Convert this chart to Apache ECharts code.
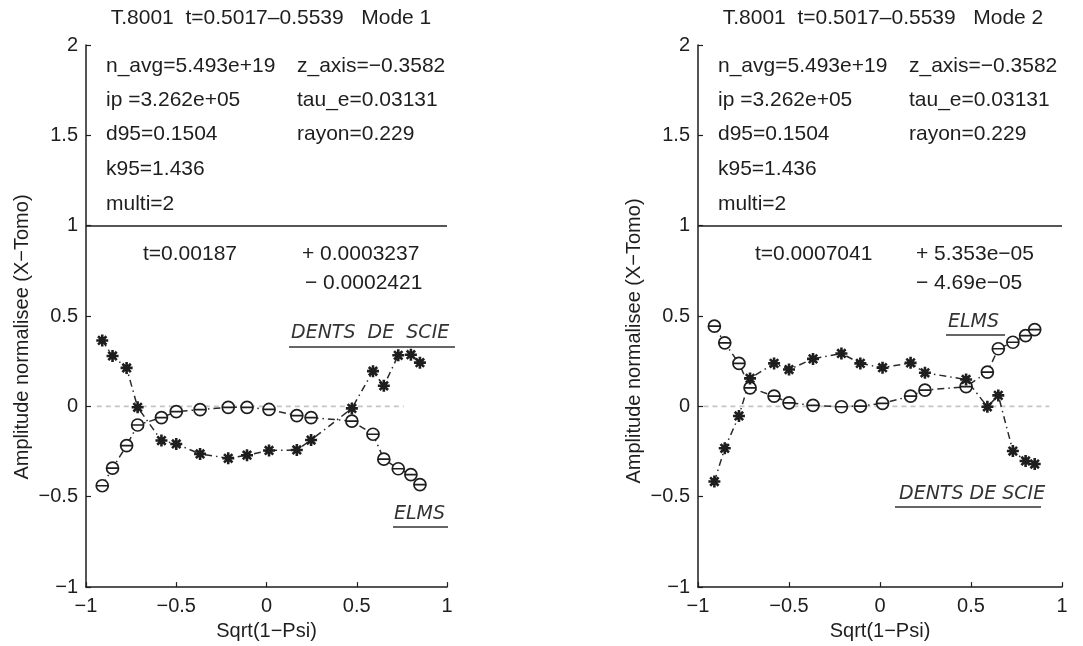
<!DOCTYPE html>
<html>
<head>
<meta charset="utf-8">
<script src="https://cdn.jsdelivr.net/npm/echarts@6/dist/echarts.min.js"></script>
<style>
html,body{margin:0;padding:0;background:#fff}
#c{width:1083px;height:646px}
</style>
</head>
<body>
<div id="c"></div>
<script>
// Radial positions, Sqrt(1-Psi), shared by both modes
const rho = [-0.91, -0.853, -0.775, -0.714, -0.582, -0.50, -0.368, -0.212, -0.108,
             0.014, 0.168, 0.247, 0.473, 0.59, 0.65, 0.73, 0.80, 0.85];

// Mode 1 normalised amplitudes
const mode1Circles = [-0.439, -0.342, -0.217, -0.103, -0.062, -0.029, -0.018, -0.005, -0.005,
                      -0.017, -0.051, -0.062, -0.081, -0.154, -0.292, -0.345, -0.378, -0.433];
const mode1Stars   = [0.365, 0.279, 0.213, -0.005, -0.189, -0.208, -0.263, -0.287, -0.270,
                      -0.244, -0.241, -0.186, -0.011, 0.195, 0.114, 0.283, 0.286, 0.242];

// Mode 2 normalised amplitudes
const mode2Circles = [0.444, 0.352, 0.238, 0.103, 0.057, 0.020, 0.006, -0.002, 0.002,
                      0.017, 0.057, 0.090, 0.109, 0.190, 0.319, 0.355, 0.392, 0.425];
const mode2Stars   = [-0.416, -0.232, -0.053, 0.155, 0.238, 0.204, 0.263, 0.293, 0.238,
                      0.214, 0.241, 0.186, 0.149, -0.002, 0.061, -0.247, -0.302, -0.319];

// Zero reference line extent (x) for each panel
const zeroSpan1 = [-0.94, 0.76];
const zeroSpan2 = [-0.97, 0.93];

// Texts
const titles = ['T.8001  t=0.5017\u20130.5539   Mode 1', 'T.8001  t=0.5017\u20130.5539   Mode 2'];
const infoCol1 = ['n_avg=5.493e+19', 'ip =3.262e+05', 'd95=0.1504', 'k95=1.436', 'multi=2'];
const infoCol2 = ['z_axis=\u22120.3582', 'tau_e=0.03131', 'rayon=0.229'];
const timeTexts = ['t=0.00187', 't=0.0007041'];
const errPlus = ['+ 0.0003237', '+ 5.353e\u221205'];
const errMinus = ['\u2212 0.0002421', '\u2212 4.69e\u221205'];
const xName = 'Sqrt(1\u2212Psi)';
const yName = 'Amplitude normalisee (X\u2212Tomo)';
const noteDentsWide = 'DENTS  DE  SCIE';
const noteDents = 'DENTS DE SCIE';
const noteElms = 'ELMS';

const INK = '#1e1e1e';
const FONT = '"Liberation Sans", Arial, Helvetica, sans-serif';

const circleBar = 'path://M0,10A10,10 0 1,1 20,10A10,10 0 1,1 0,10ZM0,10L20,10';
const star = 'path://M10,0L10,20M0,10L20,10M3,3L17,17M17,3L3,17';

const pair = arr => rho.map((x, i) => [x, arr[i]]);
const fmt = v => String(v).replace('-', '\u2212');

function axesFor(i) {
  const x = {
    type: 'value', gridIndex: i, min: -1, max: 1, interval: 0.5,
    axisLine: { show: true, onZero: false, lineStyle: { color: INK, width: 1.5 } },
    axisTick: { show: true, inside: true, length: 5, lineStyle: { color: INK, width: 1.2 } },
    splitLine: { show: false },
    axisLabel: { color: INK, fontSize: 20, fontFamily: FONT, margin: 9, formatter: fmt },
    name: xName, nameLocation: 'middle', nameGap: 32,
    nameTextStyle: { color: INK, fontSize: 20, fontFamily: FONT }
  };
  const y = {
    type: 'value', gridIndex: i, min: -1, max: 2, interval: 0.5,
    axisLine: { show: true, onZero: false, lineStyle: { color: INK, width: 1.5 } },
    axisTick: { show: true, inside: true, length: 5, lineStyle: { color: INK, width: 1.2 } },
    splitLine: { show: false },
    axisLabel: { color: INK, fontSize: 20, fontFamily: FONT, margin: 8, formatter: fmt,
                 showMinLabel: true, showMaxLabel: true }
  };
  return [x, y];
}

function seriesFor(i, circles, stars, zeroSpan) {
  const dashDot = [7, 4, 1.5, 4];
  return [
    {
      type: 'line', xAxisIndex: i, yAxisIndex: i, symbol: 'none', silent: true,
      data: zeroSpan.map(x => [x, 0]),
      lineStyle: { color: '#c4c4c4', width: 1.6, type: [5, 4] },
      markLine: {
        symbol: 'none', silent: true, label: { show: false },
        lineStyle: { color: INK, width: 1.5, type: 'solid' },
        data: [{ yAxis: 1 }]
      }
    },
    {
      type: 'line', xAxisIndex: i, yAxisIndex: i, data: pair(circles),
      symbol: circleBar, symbolSize: 12, showAllSymbol: true,
      lineStyle: { color: '#2a2a2a', width: 1.5, type: dashDot },
      itemStyle: { color: '#fff', borderColor: INK, borderWidth: 1.7 }
    },
    {
      type: 'line', xAxisIndex: i, yAxisIndex: i, data: pair(stars),
      symbol: star, symbolSize: 12, showAllSymbol: true,
      lineStyle: { color: '#2a2a2a', width: 1.5, type: dashDot },
      itemStyle: { color: INK, borderColor: INK, borderWidth: 2.6 }
    }
  ];
}

function txt(x, y, text, opts) {
  const o = opts || {};
  return {
    type: 'text', x: x, y: y, rotation: o.rotation || 0, silent: true,
    style: {
      text: text, fill: o.fill || INK,
      font: (o.style || 'normal') + ' ' + (o.size || 21) + 'px ' + (o.family || FONT),
      textAlign: o.align || 'left', align: o.align || 'left',
      textVerticalAlign: 'middle', verticalAlign: 'middle'
    }
  };
}
function rule(x1, x2, y) {
  return { type: 'line', silent: true, shape: { x1: x1, y1: y, x2: x2, y2: y },
           style: { stroke: '#333', lineWidth: 1.6 } };
}

const graphics = [];
const rows = [66, 100, 134, 169, 204];
[0, 612].forEach((dx, p) => {
  graphics.push(txt(271 + dx, 18, titles[p], { align: 'center', size: 21 }));
  infoCol1.forEach((t, k) => graphics.push(txt(106 + dx, rows[k], t)));
  infoCol2.forEach((t, k) => graphics.push(txt(297 + dx, rows[k], t)));
  graphics.push(txt([143, 755][p], 254, timeTexts[p]));
  graphics.push(txt([302, 916][p], 254, errPlus[p]));
  graphics.push(txt([305, 916][p], 283, errMinus[p]));
  graphics.push(txt([22, 634][p], [337, 341][p], yName, { align: 'center', size: 20, rotation: Math.PI / 2 }));
});

// Hand-written annotations with their underlines
const handFont = '"DejaVu Sans", sans-serif';
const hand = { size: 19, style: 'italic', family: handFont, fill: '#333' };
graphics.push(txt(291, 333, noteDentsWide, hand));
graphics.push(rule(289, 455, 347));
graphics.push(txt(394, 514, noteElms, hand));
graphics.push(rule(393, 448, 527));
graphics.push(txt(948, 322, noteElms, hand));
graphics.push(rule(946, 1005, 335));
graphics.push(txt(899, 494, noteDents, hand));
graphics.push(rule(895, 1041, 507));

const a0 = axesFor(0), a1 = axesFor(1);
const option = {
  animation: false,
  backgroundColor: '#fff',
  grid: [
    { left: 86, right: 636, top: 45, bottom: 57 },
    { left: 698, right: 21, top: 45, bottom: 58 }
  ],
  xAxis: [a0[0], a1[0]],
  yAxis: [a0[1], a1[1]],
  series: [].concat(
    seriesFor(0, mode1Circles, mode1Stars, zeroSpan1),
    seriesFor(1, mode2Circles, mode2Stars, zeroSpan2)
  ),
  graphic: graphics
};

const chart = echarts.init(document.getElementById('c'), null, { renderer: 'canvas' });
chart.setOption(option);
</script>
</body>
</html>
